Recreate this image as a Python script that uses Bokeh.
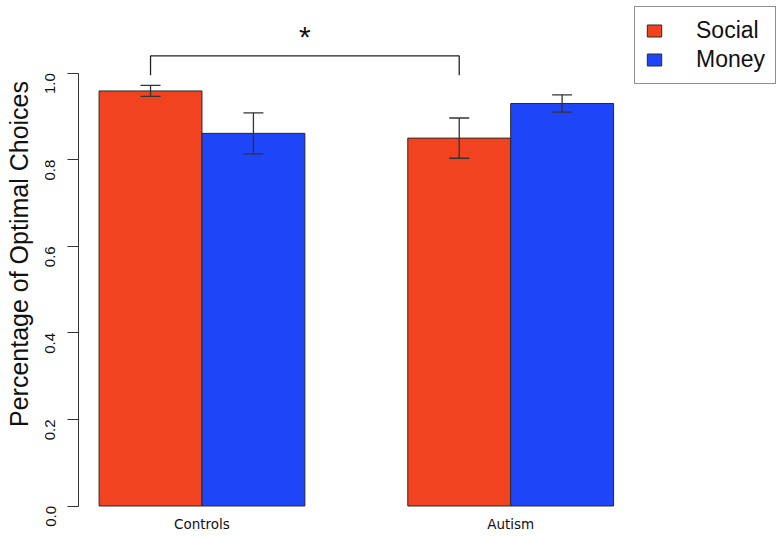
import math
from bokeh.plotting import figure
from bokeh.models import (Range1d, FixedTicker, ColumnDataSource, Whisker, TeeHead,
                          Legend, LegendItem, PrintfTickFormatter)
from bokeh.core.properties import value
from bokeh.embed import file_html
from bokeh.resources import INLINE

# ---- data ----
groups = ["Controls", "Autism"]
series = ["Social", "Money"]
social = [0.959, 0.850]
money = [0.861, 0.930]
social_err = [0.0127, 0.0465]
money_err = [0.0475, 0.0200]
y_ticks = [0.0, 0.2, 0.4, 0.6, 0.8, 1.0]
# significance bracket between Controls-Social and Autism-Social
bracket_y_low = 0.995
bracket_y_high = 1.040
sig_label = "*"
sig_label_y = 1.085

colors = {"Social": "#F1431F", "Money": "#1F45F8"}
edge = "#2a2a2a"

# R-style barplot layout: bars of width 1, one-bar gap between groups
group_center = [2 + 3 * i for i in range(len(groups))]
social_x = [c - 0.5 for c in group_center]
money_x = [c + 0.5 for c in group_center]

PX_PER_X = 102.9
PX_PER_Y = 432.8
FRAME_W = 698
FRAME_H = 507
ZERO_FROM_TOP = 505.5

p = figure(frame_width=FRAME_W, frame_height=FRAME_H,
           x_range=Range1d(0.8, 0.8 + FRAME_W / PX_PER_X),
           y_range=Range1d(-(FRAME_H - ZERO_FROM_TOP) / PX_PER_Y, ZERO_FROM_TOP / PX_PER_Y),
           output_backend="svg", toolbar_location=None,
           min_border_left=78, min_border_right=0, min_border_top=0, min_border_bottom=22)
p.outline_line_color = None
p.grid.visible = False
p.background_fill_color = "white"

src_s = ColumnDataSource(dict(x=social_x, top=social,
                              lo=[v - e for v, e in zip(social, social_err)],
                              hi=[v + e for v, e in zip(social, social_err)]))
src_m = ColumnDataSource(dict(x=money_x, top=money,
                              lo=[v - e for v, e in zip(money, money_err)],
                              hi=[v + e for v, e in zip(money, money_err)]))

r_s = p.vbar(x="x", top="top", bottom=0, width=1, source=src_s,
             fill_color=colors["Social"], line_color=edge, line_width=1)
r_m = p.vbar(x="x", top="top", bottom=0, width=1, source=src_m,
             fill_color=colors["Money"], line_color=edge, line_width=1)

for src in (src_s, src_m):
    w = Whisker(base="x", lower="lo", upper="hi", source=src, level="overlay",
                line_color="#333333", line_width=1.3,
                upper_head=TeeHead(size=20, line_color="#333333", line_width=1.3),
                lower_head=TeeHead(size=20, line_color="#333333", line_width=1.3))
    p.add_layout(w)

# significance bracket
bx = [social_x[0], social_x[0], social_x[1], social_x[1]]
by = [bracket_y_low, bracket_y_high, bracket_y_high, bracket_y_low]
p.line(bx, by, line_color="#222222", line_width=1.3)
p.text(x=[(social_x[0] + social_x[1]) / 2], y=[sig_label_y], text=[sig_label],
       text_font=value("Liberation Sans"), text_font_size="30px",
       text_align="center", text_baseline="alphabetic", text_color="#111111")

# y axis
ya = p.yaxis[0]
ya.ticker = FixedTicker(ticks=y_ticks)
ya.formatter = PrintfTickFormatter(format="%.1f")
ya.bounds = (0, 1)
ya.major_tick_out = 11
ya.major_tick_in = 0
ya.minor_tick_line_color = None
ya.axis_line_color = "#333333"
ya.major_tick_line_color = "#333333"
ya.major_label_orientation = math.pi / 2
ya.major_label_standoff = 17
ya.major_label_text_font = "Liberation Sans"
ya.major_label_text_font_size = "15px"
ya.major_label_text_color = "#111111"
ya.axis_label = "Percentage of Optimal Choices"
ya.axis_label_text_font = "Liberation Sans"
ya.axis_label_text_font_size = "25px"
ya.axis_label_text_font_style = "normal"
ya.axis_label_text_color = "#111111"
ya.axis_label_standoff = 5

# x axis (group names)
xa = p.xaxis[0]
xa.ticker = FixedTicker(ticks=group_center)
xa.major_label_overrides = {c: g for c, g in zip(group_center, groups)}
xa.major_tick_out = 0
xa.major_tick_in = 0
xa.minor_tick_line_color = None
xa.axis_line_color = None
xa.major_label_standoff = 8
xa.major_label_text_font = "DejaVu Sans"
xa.major_label_text_font_size = "13.5px"
xa.major_label_text_color = "#111111"

legend = Legend(items=[LegendItem(label=series[0], renderers=[r_s]),
                       LegendItem(label=series[1], renderers=[r_m])],
                location=(556, 423),
                label_text_font="Liberation Sans", label_text_font_size="23px",
                label_text_color="#111111",
                glyph_width=18, glyph_height=15, label_standoff=33,
                label_height=24, spacing=2, padding=10, margin=0,
                border_line_color="#222222", border_line_width=1.2,
                background_fill_alpha=1.0)
p.add_layout(legend)

open("out.html", "w").write(file_html(p, INLINE))
